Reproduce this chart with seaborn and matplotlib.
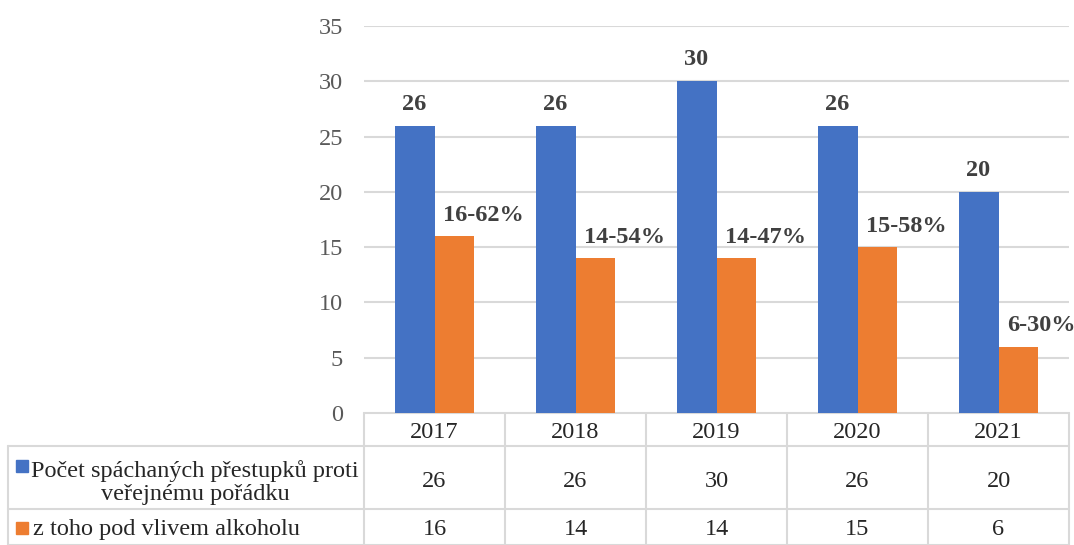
import numpy as np
import pandas as pd
import matplotlib
matplotlib.use("Agg")
import matplotlib.pyplot as plt
import seaborn as sns

####################################################################################
## DATA
####################################################################################
years = ["2017", "2018", "2019", "2020", "2021"]
series_names = ["Počet spáchaných přestupků proti\nveřejnému pořádku",
                "z toho pod vlivem alkoholu"]
offences = [26, 26, 30, 26, 20]
alcohol = [16, 14, 14, 15, 6]
alcohol_labels = ["16-62%", "14-54%", "14-47%", "15-58%", "6-30%"]

blue = "#4472C4"
orange = "#ED7D31"
grid_col = "#D9D9D9"

df = pd.DataFrame({
    "year": years * 2,
    "value": offences + alcohol,
    "series": ["s1"] * len(years) + ["s2"] * len(years),
})

####################################################################################
## Viz
####################################################################################
sns.set_style("white")
plt.rcParams['font.family'] = ['Liberation Serif', 'DejaVu Serif']
fs = 17.5

W, H = 1074, 545
fig = plt.figure(figsize=(W / 100, H / 100), dpi=100)

# plot area in pixels
left, right, top, bottom = 364, 1069, 26, 413
ax = fig.add_axes([left / W, 1 - bottom / H, (right - left) / W, (bottom - top) / H])

sns.barplot(data=df, x="year", y="value", hue="series",
            palette=[blue, orange], width=0.567, saturation=1,
            linewidth=0, legend=False, ax=ax)

ax.set_ylim(0, 35)
ax.set_xlim(-0.5, len(years) - 0.5)
ax.set_yticks(range(0, 36, 5))
ax.yaxis.grid(True, color=grid_col, linewidth=1.5)
ax.set_axisbelow(True)
for s in ax.spines.values():
    s.set_visible(False)
ax.set_xlabel("")
ax.set_ylabel("")
ax.set_xticks([])
ax.tick_params(axis="y", length=0, pad=15, labelsize=fs, labelcolor="#595959")

# data labels
for bar, v in zip(ax.containers[0], offences):
    ax.annotate(str(v), (bar.get_x() + bar.get_width() / 2, v),
                xytext=(0, 11.5), textcoords="offset points",
                ha="center", va="baseline", fontsize=fs, fontweight="bold",
                color="#404040")
for bar, v, lab in zip(ax.containers[1], alcohol, alcohol_labels):
    ax.annotate(lab, (bar.get_x(), v),
                xytext=(6, 11), textcoords="offset points",
                ha="left", va="baseline", fontsize=fs, fontweight="bold",
                color="#404040")

# data table underneath
tb = fig.add_axes([0, 0, 1, 1], zorder=-1)
tb.set_xlim(0, W)
tb.set_ylim(H, 0)
tb.axis("off")

col_w = (right - left) / len(years)
row_y = [413, 446, 509, 545]
lw = 1.5
tb.plot([left, right], [row_y[0], row_y[0]], color=grid_col, lw=lw)
for y in row_y[1:]:
    tb.plot([8, right], [y, y], color=grid_col, lw=lw)
tb.plot([8, 8], [row_y[1], row_y[3]], color=grid_col, lw=lw)
for i in range(len(years) + 1):
    x = left + i * col_w
    tb.plot([x, x], [row_y[0], row_y[3]], color=grid_col, lw=lw)

for i, yr in enumerate(years):
    cx = left + (i + 0.5) * col_w
    tb.text(cx, 438, yr, ha="center", va="baseline", fontsize=fs)
    tb.text(cx, 487, str(offences[i]), ha="center", va="baseline", fontsize=fs)
    tb.text(cx, 535, str(alcohol[i]), ha="center", va="baseline", fontsize=fs)

# legend keys + series names
tb.add_patch(plt.Rectangle((16, 460), 12, 12, color=blue))
for line, base in zip(series_names[0].split("\n"), [477, 500]):
    tb.text(195, base, line, ha="center", va="baseline", fontsize=fs)
tb.add_patch(plt.Rectangle((16, 522), 12, 12, color=orange))
tb.text(33, 535, series_names[1], ha="left", va="baseline", fontsize=fs)

fig.savefig("out.png", dpi=100)
